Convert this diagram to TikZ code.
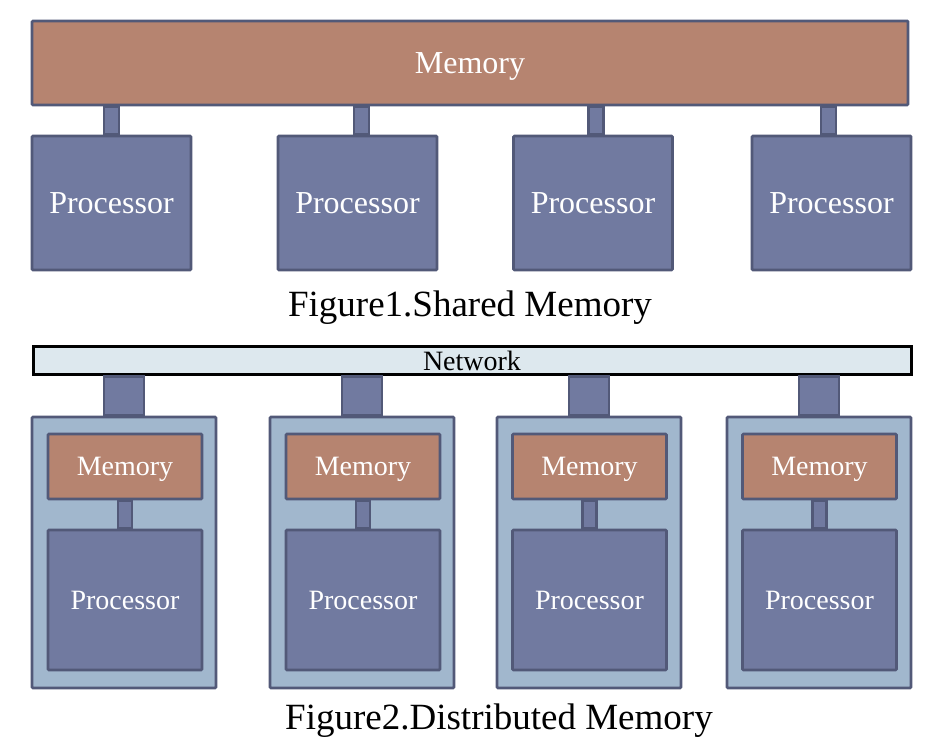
\documentclass[tikz,border=0pt]{standalone}
\usepackage{fontspec}
\setmainfont{Liberation Serif}

\definecolor{tijolo}{RGB}{182,132,112}
\definecolor{lilas}{RGB}{113,122,160}
\definecolor{borda}{RGB}{82,89,120}
\definecolor{caixa}{RGB}{161,183,205}
\definecolor{rede}{RGB}{221,232,238}

\begin{document}
\begin{tikzpicture}[x=1pt, y=1pt,
    bloco/.style={draw=borda, line width=2.8pt, rounded corners=1pt, text=white, inner sep=0pt, text depth=0pt},
    memg/.style={bloco, fill=tijolo, minimum width=876pt, minimum height=84pt, font=\fontsize{32}{38}\selectfont},
    procg/.style={bloco, fill=lilas, minimum width=159pt, minimum height=134pt, font=\fontsize{32}{38}\selectfont},
    no/.style={bloco, fill=caixa, minimum width=184pt, minimum height=271pt},
    memp/.style={bloco, fill=tijolo, minimum width=154pt, minimum height=65pt, font=\fontsize{28}{34}\selectfont},
    procp/.style={bloco, fill=lilas, minimum width=154pt, minimum height=140pt, font=\fontsize{28}{34}\selectfont},
    liga/.style={draw=borda, fill=lilas, line width=2.8pt},
    legenda/.style={anchor=base, font=\fontsize{37}{44}\selectfont}]

    \useasboundingbox (0,0) rectangle (938,743);

    % Memória compartilhada
    \node[memg] (mem) at (470,680) {Memory};
    \node[procg] (pg1) at (111.5,540) {Processor};
    \node[procg] (pg2) at (357.5,540) {Processor};
    \node[procg] (pg3) at (593,540) {Processor};
    \node[procg] (pg4) at (831.5,540) {Processor};

    % Ligações memória - processador
    \draw[liga] ([xshift=-7.5pt]pg1.north) rectangle ([xshift=7.5pt]pg1.north |- mem.south);
    \draw[liga] ([xshift=-3.5pt]pg2.north) rectangle ([xshift=11.5pt]pg2.north |- mem.south);
    \draw[liga] ([xshift=-4.5pt]pg3.north) rectangle ([xshift=10.5pt]pg3.north |- mem.south);
    \draw[liga] ([xshift=-10.5pt]pg4.north) rectangle ([xshift=4.5pt]pg4.north |- mem.south);

    \node[legenda] (leg1) at (470,426) {Figure1.Shared Memory};

    % Rede
    \node[draw=black, fill=rede, line width=3pt, minimum width=878pt, minimum height=28pt,
          inner sep=0pt, text depth=0pt, font=\fontsize{28}{34}\selectfont] (net) at (472,382) {Network};

    % Nós da memória distribuída
    \node[no] (n1) at (124,190.5) {};
    \node[no] (n2) at (362,190.5) {};
    \node[no] (n3) at (589,190.5) {};
    \node[no] (n4) at (819,190.5) {};

    \node[memp] (m1) at (125,276.5) {Memory};
    \node[memp] (m2) at (363,276.5) {Memory};
    \node[memp] (m3) at (589.5,276.5) {Memory};
    \node[memp] (m4) at (819.5,276.5) {Memory};

    \node[procp] (p1) at (125,143) {Processor};
    \node[procp] (p2) at (363,143) {Processor};
    \node[procp] (p3) at (589.5,143) {Processor};
    \node[procp] (p4) at (819.5,143) {Processor};

    % Ligações rede - nó
    \draw[liga] ([xshift=-20pt]n1.north) rectangle ([xshift=20pt]n1.north |- net.south);
    \draw[liga] ([xshift=-20pt]n2.north) rectangle ([xshift=20pt]n2.north |- net.south);
    \draw[liga] ([xshift=-20pt]n3.north) rectangle ([xshift=20pt]n3.north |- net.south);
    \draw[liga] ([xshift=-20pt]n4.north) rectangle ([xshift=20pt]n4.north |- net.south);

    % Ligações memória - processador locais
    \draw[liga] ([xshift=-7pt]p1.north) rectangle ([xshift=7pt]m1.south);
    \draw[liga] ([xshift=-7pt]p2.north) rectangle ([xshift=7pt]m2.south);
    \draw[liga] ([xshift=-7pt]p3.north) rectangle ([xshift=7pt]m3.south);
    \draw[liga] ([xshift=-7pt]p4.north) rectangle ([xshift=7pt]m4.south);

    \node[legenda] (leg2) at (499,13) {Figure2.Distributed Memory};

\end{tikzpicture}
\end{document}
